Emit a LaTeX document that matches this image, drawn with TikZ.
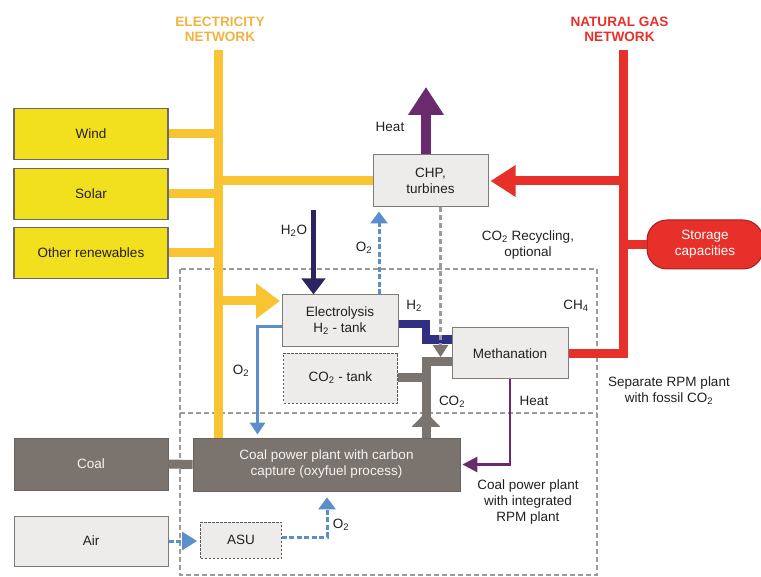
\documentclass[tikz,border=0pt]{standalone}
\usepackage{fontspec}
\setmainfont{Liberation Sans}
\usepackage{tikz}
\usetikzlibrary{arrows.meta, positioning, calc}
\usepackage{xcolor}
\definecolor{rpmGold}{HTML}{F9C431}
\definecolor{rpmGoldText}{HTML}{F0B341}
\definecolor{rpmYellow}{HTML}{F2E01E}
\definecolor{rpmRed}{HTML}{E8302A}
\definecolor{rpmPurple}{HTML}{6A2A6E}
\definecolor{rpmNavy}{HTML}{312F83}
\definecolor{rpmDeep}{HTML}{2B2461}
\definecolor{rpmBlue}{HTML}{5B8FCB}
\definecolor{rpmStone}{HTML}{7B736D}
\definecolor{rpmPaper}{HTML}{EEECEA}
\definecolor{rpmEdge}{HTML}{7F7B78}
\definecolor{rpmInk}{HTML}{231F20}
\definecolor{rpmDash}{HTML}{9B9B9B}

\newcommand{\sbs}[1]{\textsubscript{#1}}

\begin{document}
\begin{tikzpicture}[
  x=1pt, y=-1pt,
  font=\fontsize{13.5}{16}\selectfont,
  lbl/.style={text=rpmInk, inner sep=1pt, align=center},
  ttl/.style={font=\fontsize{13.6}{15.5}\selectfont\bfseries, align=center, inner sep=0pt},
  srcbox/.style={draw=rpmEdge!85!black, line width=1.4pt, fill=rpmYellow, text=rpmInk,
                 minimum width=154pt, minimum height=51pt, inner sep=0pt},
  unit/.style={draw=rpmEdge, line width=1pt, fill=rpmPaper, text=rpmInk,
               align=center, inner sep=0pt},
  tank/.style={draw=rpmInk!75, line width=0.9pt, dash pattern=on 2.5pt off 1.5pt,
               fill=rpmPaper, text=rpmInk, inner sep=0pt},
  coalbox/.style={draw=rpmStone!85!black, line width=0.8pt, fill=rpmStone,
                  text=white!92!rpmStone, align=center, inner sep=0pt},
  elec/.style={draw=rpmGold, line width=9pt},
  gas/.style={draw=rpmRed, line width=9pt},
  flue/.style={draw=rpmStone, line width=9pt},
  oxy/.style={draw=rpmBlue, line width=3pt},
  oxydash/.style={draw=rpmBlue, line width=3pt, dash pattern=on 5pt off 2.5pt},
  zone/.style={draw=rpmDash, line width=2.5pt, dash pattern=on 5pt off 3pt},
]
\useasboundingbox (0,0) rectangle (761,577);

% the RPM zones: integrated plant below, separate plant above
\draw[zone] (180,269) rectangle (597,575);
\draw[zone] (180,413) -- (597,413);

% ================================ sources ====================================
\node[srcbox] (wind)  at (91,134) {Wind};
\node[srcbox] (solar) at (91,194) {Solar};
\node[srcbox] (other) at (91,253) {Other renewables};
\node[coalbox, minimum width=154pt, minimum height=52pt] (coal) at (91,464) {Coal};
\node[unit, minimum width=154pt, minimum height=50pt] (air) at (91,541) {Air};

% ================================= units =====================================
\node[unit, minimum width=115pt, minimum height=52pt] (chp) at (430.5,181) {CHP,\\turbines};
\node[unit, minimum width=116pt, minimum height=52pt] (elys) at (340,321)
  {Electrolysis\\H\sbs{2} - tank};
\node[tank, minimum width=114pt, minimum height=50pt] (co2tank) at (340.5,378) {CO\sbs{2} - tank};
\node[unit, minimum width=116pt, minimum height=51pt] (meth) at (510,353.5) {Methanation};
\node[coalbox, minimum width=267pt, minimum height=53pt] (plant) at (326.5,464.5)
  {Coal power plant with carbon\\capture (oxyfuel process)};
\node[tank, minimum width=81pt, minimum height=36pt] (asu) at (241,540) {ASU};
\node[draw=rpmRed!70!black, line width=1pt, fill=rpmRed, text=white, rounded corners=20pt,
      minimum width=116pt, minimum height=49pt, align=center, inner sep=0pt]
  (store) at (705,244.5) {Storage\\capacities};

% =============================== networks ====================================
\coordinate (elecTop) at (218,50);
\coordinate (gasTop)  at (623,50);
\coordinate (elysIn)  at (280,301);

\draw[elec] (elecTop) -- (elecTop |- plant.north);
\foreach \src in {wind, solar, other}
  \draw[elec] (\src.east) -- (\src.east -| elecTop);
\draw[elec] (elecTop |- chp.west) -- (chp.west);
\draw[elec, -{Triangle[length=24pt, width=34pt]}] (elecTop |- elysIn) -- (elysIn);

\draw[gas] (gasTop) -- (gasTop |- meth.east) -- (meth.east);
\draw[gas] (gasTop |- store.west) -- (store.west);
\draw[gas, -{Triangle[length=25pt, width=30pt]}, shorten >=2pt] (gasTop |- chp.east) -- (chp.east);

% ============================ around the CHP =================================
\coordinate (heatOut) at (426,87);
\coordinate (waterIn) at (313.5,210);
\coordinate (o2Up)    at (379,295);

\draw[draw=rpmPurple, line width=10pt, -{Triangle[length=28pt, width=34pt]}]
  (chp.north -| heatOut) -- (heatOut);
\draw[draw=rpmDeep, line width=4.5pt, -{Triangle[length=16pt, width=23pt]}]
  (waterIn) -- (waterIn |- elys.north);
\draw[oxydash, -{Triangle[length=12pt, width=17pt]}, shorten >=4pt]
  (elys.north -| o2Up) -- (chp.south -| o2Up);

% ============================ H2 and CO2 feed ================================
\coordinate (h2Bend)  at (426,339.5);
\coordinate (co2j)    at (426,361.5);
\coordinate (co2Head) at (426,412);
\coordinate (recyc)   at (440.5,207);

\draw[draw=rpmNavy, line width=8.5pt] ($(elys.east)+(0,3)$) -| (h2Bend) -- (h2Bend -| meth.west);
\draw[flue] (plant.north -| co2j) -- (co2j) -- (co2j -| meth.west);
\draw[flue] (co2tank.east) -- (co2tank.east -| co2j);
\draw[flue, -{Triangle[length=15pt, width=28pt]}] (plant.north -| co2Head) -- (co2Head);
\draw[zone, -{Triangle[length=12pt, width=15pt, color=rpmStone]}, shorten >=4.5pt]
  (chp.south -| recyc) -- (recyc |- co2j);

% ============================ oxygen and heat ================================
\coordinate (o2Down) at (257.5,327);
\coordinate (o2Rise) at (327,537);

\draw[oxy, -{Triangle[length=12pt, width=15pt]}, shorten >=3pt]
  (elys.west |- o2Down) -- (o2Down) -- (o2Down |- plant.north);
\draw[draw=rpmPurple, line width=2.8pt, -{Triangle[length=15pt, width=15pt]}, shorten >=2pt]
  (meth.south) |- (plant.east);
\draw[flue] (coal.east) -- (plant.west);
\draw[oxydash, -{Triangle[length=15pt, width=18pt]}, shorten >=3pt]
  (air.east) -- (air.east -| asu.west);
\draw[oxydash, -{Triangle[length=12pt, width=17pt]}, shorten >=6pt]
  (asu.east |- o2Rise) -- (o2Rise) -- (o2Rise |- plant.south);

% ================================ labels =====================================
\node[ttl, text=rpmGoldText] (elecTitle) at (220,29.5) {ELECTRICITY\\NETWORK};
\node[ttl, text=rpmRed] (gasTitle) at (619.5,29.5) {NATURAL GAS\\NETWORK};
\node[lbl] (chpHeat)   at (390,127) {Heat};
\node[lbl] (waterLbl)  at (294,231) {H\sbs{2}O};
\node[lbl] (o2UpLbl)   at (364,248) {O\sbs{2}};
\node[lbl] (recycLbl)  at (528,245) {CO\sbs{2} Recycling,\\optional};
\node[lbl] (h2Lbl)     at (414,306) {H\sbs{2}};
\node[lbl] (ch4Lbl)    at (576,306) {CH\sbs{4}};
\node[lbl] (o2DownLbl) at (241,371) {O\sbs{2}};
\node[lbl] (co2Lbl)    at (452,402) {CO\sbs{2}};
\node[lbl] (methHeat)  at (534,401) {Heat};
\node[lbl] (sepLbl)    at (669,391) {Separate RPM plant\\with fossil CO\sbs{2}};
\node[lbl] (intLbl)    at (528,502) {Coal power plant\\with integrated\\RPM plant};
\node[lbl] (o2RiseLbl) at (341,525) {O\sbs{2}};
\end{tikzpicture}
\end{document}
